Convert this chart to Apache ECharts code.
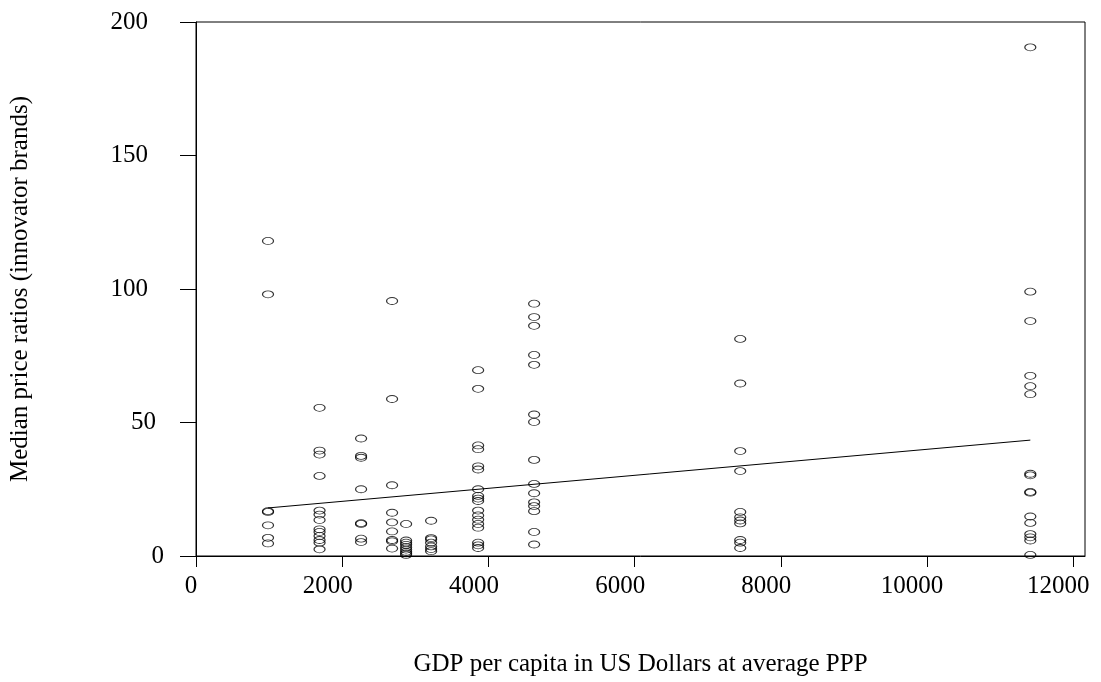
<!DOCTYPE html>
<html>
<head>
<meta charset="utf-8">
<script src="https://cdn.jsdelivr.net/npm/echarts@6/dist/echarts.min.js"></script>
<style>
  html, body { margin: 0; padding: 0; background: #fff; }
  #chart { width: 1101px; height: 682px; }
</style>
</head>
<body>
<div id="chart"></div>
<script>
// GDP per capita (US$ at average PPP) for each country column
const gdpLevels = [985, 1690, 2258, 2682, 2874, 3216, 3859, 4625, 7444, 11412];

// Median price ratios of innovator brands, one list per country column
const ratiosA = [118, 98, 16.5, 16.8, 11.5, 6.8, 4.7];
const ratiosB = [55.5, 39.5, 38, 30, 17, 15.5, 13.5, 10, 9, 7.5, 6, 5, 2.5];
const ratiosC = [44, 37.5, 36.8, 25, 12.3, 12, 6.5, 5.2];
const ratiosD = [95.5, 58.8, 26.5, 16.2, 12.6, 9.2, 6, 5.5, 2.8];
const ratiosE = [12, 5.8, 5, 4.2, 3.3, 2.4, 1.6, 1, 0.4];
const ratiosF = [13.2, 6.7, 6.2, 5, 3.6, 2.6, 1.8];
const ratiosG = [69.6, 62.6, 41.4, 40, 33.6, 32.4, 25, 22.5, 21.5, 20.6, 17, 15.2, 13.6, 12, 10.6, 5, 4, 3];
const ratiosH = [94.5, 89.5, 86.2, 75.3, 71.6, 53, 50.2, 36, 27, 23.5, 20.1, 18.7, 16.8, 9, 4.3];
const ratiosI = [81.3, 64.6, 39.3, 31.8, 16.5, 14.5, 13.3, 12.2, 6, 5, 3];
const ratiosJ = [190.5, 99, 88, 67.5, 63.6, 60.6, 30.8, 30.2, 24, 23.7, 14.8, 12.4, 8.2, 7, 5.8, 0.4];
const ratioColumns = [ratiosA, ratiosB, ratiosC, ratiosD, ratiosE, ratiosF, ratiosG, ratiosH, ratiosI, ratiosJ];

// Fitted linear trend, end points
const trendX = [985, 11412];
const trendY = [18.0, 43.4];

// Axis ticks
const xTicks = [0, 2000, 4000, 6000, 8000, 10000, 12000];
const yTicks = [0, 50, 100, 150, 200];

const points = [];
gdpLevels.forEach((g, i) => {
  ratioColumns[i].forEach(r => points.push([g, r]));
});
const trend = trendX.map((x, i) => [x, trendY[i]]);

const FONT = '"Liberation Serif", "Times New Roman", serif';
const FS = 25;

// per-label nudges so the tick numbers sit where the printed ones do
const xRich = {
  s: { fontFamily: FONT, fontSize: FS, color: '#000', padding: [0, 10, 0, 0] },
  m: { fontFamily: FONT, fontSize: FS, color: '#000', padding: [0, 29, 0, 0] },
  l: { fontFamily: FONT, fontSize: FS, color: '#000', padding: [0, 30, 0, 0] }
};
const yRich = {
  a: { fontFamily: FONT, fontSize: FS, color: '#000', padding: [0, 0, 0, 0] },
  b: { fontFamily: FONT, fontSize: FS, color: '#000', padding: [0, 8, 0, 0] },
  c: { fontFamily: FONT, fontSize: FS, color: '#000', padding: [0, 16, 0, 0] }
};

const chart = echarts.init(document.getElementById('chart'), null, { renderer: 'canvas' });
chart.setOption({
  backgroundColor: '#fff',
  animation: false,
  textStyle: { fontFamily: FONT, color: '#000' },
  grid: {
    left: 196, top: 22, right: 16, bottom: 121,
    show: true, borderColor: '#000', borderWidth: 1, backgroundColor: 'transparent'
  },
  xAxis: {
    type: 'value',
    min: 0,
    max: 12160,
    name: 'GDP per capita in US Dollars at average PPP',
    nameLocation: 'middle',
    nameGap: 96,
    nameTextStyle: { fontFamily: FONT, fontSize: FS, color: '#000' },
    axisLine: { show: true, onZero: false, lineStyle: { color: '#000', width: 1 } },
    axisTick: { show: true, length: 11, customValues: xTicks, lineStyle: { color: '#000', width: 1 } },
    axisLabel: {
      customValues: xTicks,
      margin: 18,
      formatter: v => (v === 0 ? '{s|' : v >= 10000 ? '{l|' : '{m|') + v + '}',
      rich: xRich
    },
    splitLine: { show: false }
  },
  yAxis: {
    type: 'value',
    min: 0,
    max: 200,
    interval: 50,
    name: 'Median price ratios (innovator brands)',
    nameLocation: 'middle',
    nameGap: 163,
    nameTextStyle: { fontFamily: FONT, fontSize: FS, color: '#000' },
    axisLine: { show: true, lineStyle: { color: '#000', width: 1 } },
    axisTick: { show: true, length: 16, lineStyle: { color: '#000', width: 1 } },
    axisLabel: {
      margin: 32,
      align: 'right',
      formatter: v => (v === 0 ? '{a|' : v < 100 ? '{b|' : '{c|') + v + '}',
      rich: yRich
    },
    splitLine: { show: false }
  },
  series: [
    {
      type: 'scatter',
      data: points,
      symbol: 'circle',
      symbolSize: [11, 7],
      itemStyle: { color: 'rgba(0,0,0,0)', borderColor: '#000', borderWidth: 1 },
      z: 3
    },
    {
      type: 'line',
      data: trend,
      showSymbol: false,
      symbol: 'none',
      lineStyle: { color: '#000', width: 1 },
      z: 2
    }
  ]
});
</script>
</body>
</html>
